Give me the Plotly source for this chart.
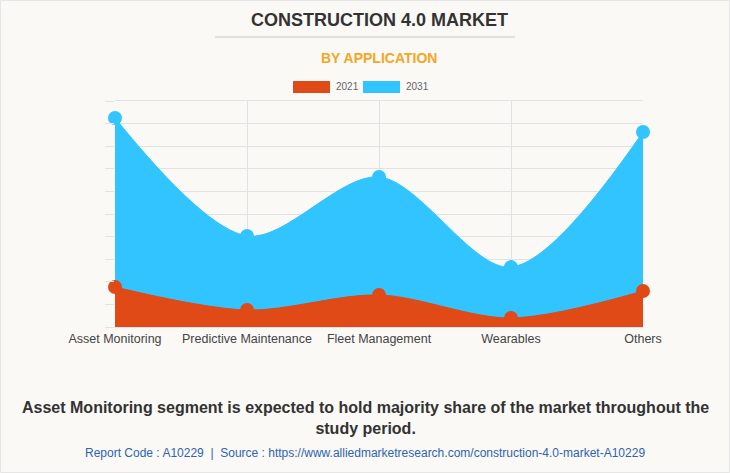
import plotly.graph_objects as go

categories = ["Asset Monitoring", "Predictive Maintenance", "Fleet Management", "Wearables", "Others"]
values_2021 = [1.77, 0.75, 1.42, 0.40, 1.59]
values_2031 = [9.25, 4.03, 6.64, 2.65, 8.63]
series_names = ["2021", "2031"]
colors = ["#DF4A16", "#31C4FE"]

L, R, T, B = 115, 87, 101, 146
W, H = 730, 473
pw, ph = W - L - R, H - T - B

def px(x):
    return (x - L) / pw

def py(y):
    return (H - B - y) / ph

fig = go.Figure()
for name, vals, col in [(series_names[1], values_2031, colors[1]), (series_names[0], values_2021, colors[0])]:
    fig.add_trace(go.Scatter(
        x=categories, y=vals, name=name, mode="lines+markers",
        line=dict(color=col, width=1, shape="spline", smoothing=0.9),
        marker=dict(color=col, size=14),
        fill="tozeroy", fillcolor=col, showlegend=False, hoverinfo="x+y",
        cliponaxis=False,
    ))

shapes = [
    dict(type="line", xref="paper", yref="paper", x0=px(215), x1=px(515), y0=py(37), y1=py(37),
         line=dict(color="#c8c8c8", width=1)),
    dict(type="rect", xref="paper", yref="paper", x0=px(293), x1=px(330), y0=py(81), y1=py(93),
         fillcolor=colors[0], line=dict(width=0)),
    dict(type="rect", xref="paper", yref="paper", x0=px(363), x1=px(400), y0=py(81), y1=py(93),
         fillcolor=colors[1], line=dict(width=0)),
    dict(type="rect", xref="paper", yref="paper", x0=px(0.5), x1=px(729.5), y0=py(0.5), y1=py(472.5),
         line=dict(color="#e6e6e6", width=1), layer="below"),
]

annotations = [
    dict(text="<b>CONSTRUCTION 4.0 MARKET</b>", x=0.5, y=py(20), xref="paper", yref="paper",
         xanchor="center", yanchor="middle", showarrow=False,
         font=dict(family="Liberation Sans, Arial", size=18, color="#333333")),
    dict(text="<b>BY APPLICATION</b>", x=0.5, y=py(58), xref="paper", yref="paper",
         xanchor="center", yanchor="middle", showarrow=False,
         font=dict(family="Liberation Sans, Arial", size=14, color="#F5A623")),
    dict(text=series_names[0], x=px(334), y=py(87), xref="paper", yref="paper",
         xanchor="left", yanchor="middle", showarrow=False,
         font=dict(family="Liberation Sans, Arial", size=10, color="#666666")),
    dict(text=series_names[1], x=px(404), y=py(87), xref="paper", yref="paper",
         xanchor="left", yanchor="middle", showarrow=False,
         font=dict(family="Liberation Sans, Arial", size=10, color="#666666")),
    dict(text="<b>Asset Monitoring segment is expected to hold majority share of the market throughout the<br>study period.</b>",
         x=px(365), y=py(418), xref="paper", yref="paper",
         xanchor="center", yanchor="middle", showarrow=False,
         font=dict(family="Liberation Sans, Arial", size=16, color="#333333")),
    dict(text="Report Code : A10229  |  Source : https://www.alliedmarketresearch.com/construction-4.0-market-A10229",
         x=px(365), y=py(453), xref="paper", yref="paper",
         xanchor="center", yanchor="middle", showarrow=False,
         font=dict(family="Liberation Sans, Arial", size=12, color="#2E63B0")),
]

fig.update_layout(
    width=W, height=H,
    margin=dict(l=L, r=R, t=T, b=B),
    paper_bgcolor="#FAF9F5", plot_bgcolor="#FAF9F5",
    showlegend=False,
    shapes=shapes, annotations=annotations,
    xaxis=dict(type="category", range=[0, 4], showgrid=True, gridcolor="#e2e2e2",
               showline=True, linecolor="#e2e2e2", mirror=True, zeroline=False,
               tickfont=dict(family="Liberation Sans, Arial", size=12.5, color="#444444"),
               ticks="", fixedrange=True),
    yaxis=dict(range=[0, 10], dtick=1, showgrid=True, gridcolor="#e2e2e2", zeroline=False,
               showticklabels=False, ticks="outside", ticklen=9, tickcolor="#e2e2e2",
               showline=False, fixedrange=True),
)

fig.write_html("out.html", config={"displayModeBar": False},
               post_script="document.body.style.margin='0';document.body.style.overflow='hidden';")
